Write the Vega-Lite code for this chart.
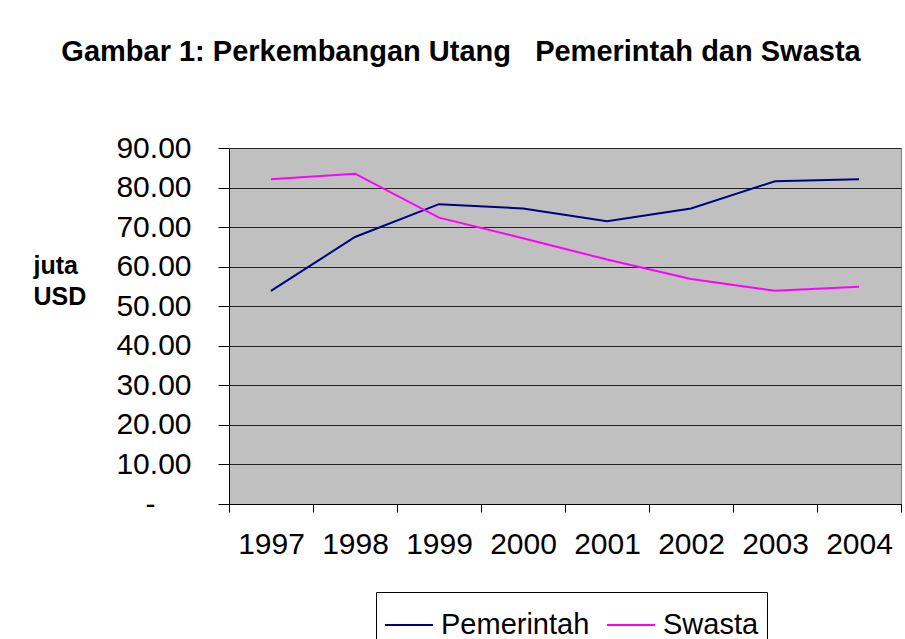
{
  "$schema": "https://vega.github.io/schema/vega-lite/v6.json",
  "width": 672,
  "height": 356,
  "autosize": "none",
  "padding": {"left": 229, "top": 148, "right": 4, "bottom": 135},
  "background": "white",
  "title": {
    "text": "Gambar 1: Perkembangan Utang\u00a0\u00a0 Pemerintah dan Swasta",
    "font": "Liberation Sans",
    "fontSize": 29,
    "fontWeight": "bold",
    "color": "black",
    "anchor": "middle",
    "baseline": "alphabetic",
    "offset": 43,
    "dx": -104
  },
  "data": {
    "values": [
      {"tahun": "1997", "seri": "Pemerintah", "nilai": 53.9},
      {"tahun": "1998", "seri": "Pemerintah", "nilai": 67.5},
      {"tahun": "1999", "seri": "Pemerintah", "nilai": 75.8},
      {"tahun": "2000", "seri": "Pemerintah", "nilai": 74.7},
      {"tahun": "2001", "seri": "Pemerintah", "nilai": 71.5},
      {"tahun": "2002", "seri": "Pemerintah", "nilai": 74.7},
      {"tahun": "2003", "seri": "Pemerintah", "nilai": 81.6},
      {"tahun": "2004", "seri": "Pemerintah", "nilai": 82.1},
      {"tahun": "1997", "seri": "Swasta", "nilai": 82.1},
      {"tahun": "1998", "seri": "Swasta", "nilai": 83.5},
      {"tahun": "1999", "seri": "Swasta", "nilai": 72.4},
      {"tahun": "2000", "seri": "Swasta", "nilai": 67.2},
      {"tahun": "2001", "seri": "Swasta", "nilai": 61.8},
      {"tahun": "2002", "seri": "Swasta", "nilai": 56.9},
      {"tahun": "2003", "seri": "Swasta", "nilai": 53.9},
      {"tahun": "2004", "seri": "Swasta", "nilai": 54.9}
    ]
  },
  "mark": {"type": "line", "strokeWidth": 2},
  "encoding": {
    "x": {
      "field": "tahun",
      "type": "ordinal",
      "scale": {"type": "band", "paddingInner": 0, "paddingOuter": 0},
      "bandPosition": 0.5,
      "axis": {
        "title": null,
        "labelAngle": 0,
        "tickBand": "extent",
        "tickSize": 8,
        "tickColor": "black",
        "domainColor": "black",
        "labelPadding": 17,
        "labelFontSize": 30,
        "labelFont": "Liberation Sans",
        "labelColor": "black",
        "grid": false
      }
    },
    "y": {
      "field": "nilai",
      "type": "quantitative",
      "scale": {"domain": [0, 90], "nice": false, "zero": true},
      "axis": {
        "values": [0, 10, 20, 30, 40, 50, 60, 70, 80, 90],
        "labelExpr": "datum.value == 0 ? '-' : format(datum.value, '.2f')",
        "title": ["juta", "USD"],
        "titleAngle": 0,
        "titleAlign": "left",
        "titleBaseline": "top",
        "titleX": -196,
        "titleY": 105,
        "titleFont": "Liberation Sans",
        "titleFontSize": 25,
        "titleFontWeight": "bold",
        "titleColor": "black",
        "titleLineHeight": 31,
        "tickSize": 11,
        "tickColor": "black",
        "domainColor": "black",
        "labelPadding": {"condition": {"test": "datum.value == 0", "value": 63}, "value": 27},
        "labelFontSize": 30,
        "labelFont": "Liberation Sans",
        "labelColor": "black",
        "grid": true,
        "gridColor": "#222222",
        "gridWidth": 1
      }
    },
    "color": {
      "field": "seri",
      "type": "nominal",
      "scale": {"domain": ["Pemerintah", "Swasta"], "range": ["#000080", "#FF00FF"]},
      "legend": {
        "title": null,
        "orient": "none",
        "direction": "horizontal",
        "legendX": 147,
        "legendY": 444,
        "symbolType": "stroke",
        "symbolSize": 2304,
        "symbolStrokeWidth": 2,
        "labelFontSize": 29,
        "labelFont": "Liberation Sans",
        "labelColor": "black",
        "labelOffset": 7,
        "columnPadding": 13,
        "strokeColor": "black",
        "padding": 8,
        "fillColor": "white"
      }
    }
  },
  "config": {
    "view": {"fill": "#C0C0C0", "stroke": "#808080", "strokeWidth": 1}
  }
}
